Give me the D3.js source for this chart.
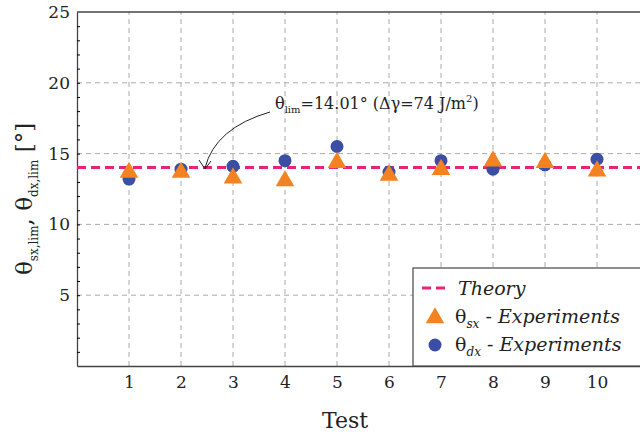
<!DOCTYPE html>
<html><head><meta charset="utf-8">
<script src="https://cdn.jsdelivr.net/npm/d3@7"></script>
<style>body{margin:0;background:#fff}svg text{font-family:"DejaVu Serif",serif !important;fill:#222}</style>
</head><body><div id="chart"></div>
<script>
const tests = [1, 2, 3, 4, 5, 6, 7, 8, 9, 10];
const thetaSx = [13.6, 13.6, 13.2, 13.0, 14.3, 13.4, 13.8, 14.4, 14.3, 13.7];
const thetaDx = [13.2, 13.9, 14.1, 14.5, 15.5, 13.7, 14.5, 13.9, 14.2, 14.6];
const theory = 14.01;
const yTicks = [5, 10, 15, 20, 25];

const width = 640, height = 438;
const svg = d3.select('#chart').append('svg').attr('width', width).attr('height', height);
const x = d3.scaleLinear().domain([0, 11]).range([77, 649]);
const y = d3.scaleLinear().domain([0, 25]).range([366, 12]);

// grid
svg.append('g').selectAll('line').data(tests).join('line')
    .attr('x1', d => x(d)).attr('x2', d => x(d)).attr('y1', y(0)).attr('y2', y(25))
    .attr('stroke', '#aaa').attr('stroke-dasharray', '5,4');
svg.append('g').selectAll('line').data(yTicks.slice(0, 4)).join('line')
    .attr('x1', x(0)).attr('x2', width).attr('y1', d => y(d)).attr('y2', d => y(d))
    .attr('stroke', '#aaa').attr('stroke-dasharray', '5,4');

// axes
const yAxis = svg.append('g').attr('transform', `translate(${x(0)},0)`)
    .call(d3.axisLeft(y).tickValues(yTicks).tickSize(0).tickPadding(7));
svg.append('g').attr('transform', `translate(${x(0)},0)`)
    .call(d3.axisRight(y).tickValues(d3.range(1, 25)).tickSize(3).tickFormat(''))
    .call(g => g.select('.domain').remove());
const xAxis = svg.append('g').attr('transform', `translate(0,${y(0)})`)
    .call(d3.axisBottom(x).tickValues(tests).tickSize(0).tickPadding(10));
[yAxis, xAxis].forEach(g => {
    g.select('.domain').attr('stroke', '#444').attr('stroke-width', 1.3);
    g.selectAll('text').style('font-size', '17px').style('fill', '#222');
});
svg.append('line').attr('x1', x(0)).attr('x2', width).attr('y1', y(25)).attr('y2', y(25))
    .attr('stroke', '#444').attr('stroke-width', 1.3);

// theory line
svg.append('line').attr('x1', x(0)).attr('x2', width).attr('y1', y(theory)).attr('y2', y(theory))
    .attr('stroke', '#e8237a').attr('stroke-width', 3).attr('stroke-dasharray', '9,5');

// markers: circles first, triangles on top
const tri = d3.symbol().type(d3.symbolTriangle).size(150);
svg.append('g').selectAll('circle').data(tests).join('circle')
    .attr('cx', d => x(d)).attr('cy', (d, i) => y(thetaDx[i])).attr('r', 6.5).attr('fill', '#3a4fa3');
svg.append('g').selectAll('path').data(tests).join('path')
    .attr('d', tri).attr('fill', '#f58220')
    .attr('transform', (d, i) => `translate(${x(d)},${y(thetaSx[i]) - 1})`);

// annotation
const ann = svg.append('text').attr('x', 275).attr('y', 109).style('font-size', '16px');
ann.append('tspan').text('θ');
ann.append('tspan').text('lim').style('font-size', '10px').attr('dy', 4);
ann.append('tspan').text('=14.01° (Δγ=74 J/m').attr('dy', -4);
ann.append('tspan').text('2').style('font-size', '10px').attr('dy', -7);
ann.append('tspan').text(')').attr('dy', 7);
svg.append('path').attr('d', 'M270,112 Q215,128 205,168').attr('fill', 'none').attr('stroke', '#222');
svg.append('path').attr('d', 'M199,160 L205,169 L211,161').attr('fill', 'none').attr('stroke', '#222');

// axis labels
svg.append('text').attr('x', x(5.5) - 18).attr('y', 428).attr('text-anchor', 'middle')
    .style('font-size', '22px').text('Test');
const yl = svg.append('text').attr('transform', `translate(32,${y(12.5) + 10}) rotate(-90)`)
    .attr('text-anchor', 'middle').style('font-size', '23px');
yl.append('tspan').text('θ');
yl.append('tspan').text('sx,lim').style('font-size', '12px').attr('dy', 6);
yl.append('tspan').text(', θ').attr('dy', -6);
yl.append('tspan').text('dx,lim').style('font-size', '12px').attr('dy', 6);
yl.append('tspan').text(' [°]').attr('dy', -6);

// legend
const lg = svg.append('g').attr('transform', 'translate(413,268)');
lg.append('rect').attr('width', 240).attr('height', 98).attr('fill', '#fff').attr('stroke', '#444').attr('stroke-width', 1.2);
lg.append('line').attr('x1', 9).attr('x2', 35).attr('y1', 20).attr('y2', 20)
    .attr('stroke', '#e8237a').attr('stroke-width', 3).attr('stroke-dasharray', '9,5');
lg.append('path').attr('d', tri).attr('fill', '#f58220').attr('transform', 'translate(22,50)');
lg.append('circle').attr('cx', 22).attr('cy', 77).attr('r', 6.5).attr('fill', '#3a4fa3');
lg.append('text').attr('x', 45).attr('y', 27).style('font-size', '19px').style('font-style', 'italic').text('Theory');
[['sx', 55], ['dx', 83]].forEach(([s, yy]) => {
    const t = lg.append('text').attr('x', 42).attr('y', yy).style('font-size', '19px');
    t.append('tspan').text('θ');
    t.append('tspan').text(s).style('font-size', '12px').style('font-style', 'italic').attr('dy', 5);
    t.append('tspan').text(' - ').attr('dy', -5);
    t.append('tspan').text('Experiments').style('font-style', 'italic');
});
</script></body></html>
